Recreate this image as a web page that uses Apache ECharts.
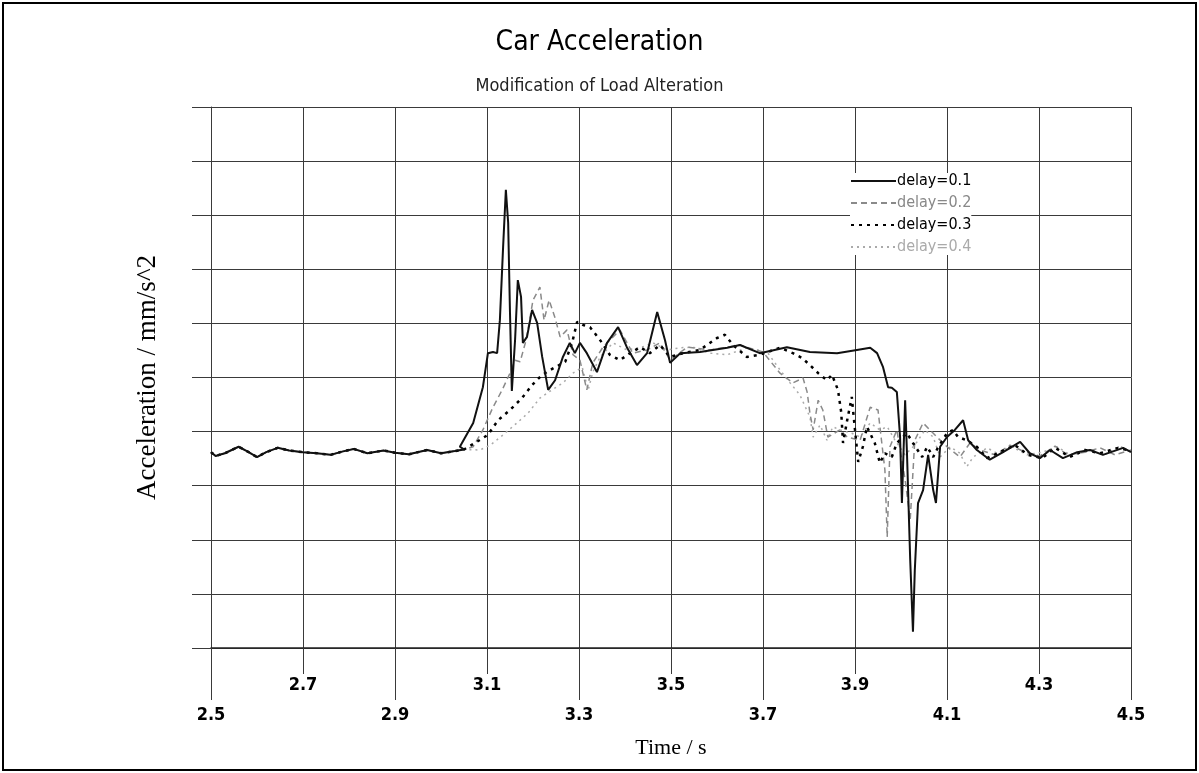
<!DOCTYPE html>
<html lang="en">
<head>
    <meta charset="UTF-8">
    <title>Car Acceleration</title>
    <script src="https://cdn.jsdelivr.net/npm/echarts@6/dist/echarts.min.js"></script>
    <style>
        html, body { margin: 0; padding: 0; background: #fff; }
    </style>
</head>
<body>
<div id="main" style="width: 1199px;height:773px;"></div>
<script type="text/javascript">
    // tick positions of the time axis
    var gridTicks = [2.5, 2.7, 2.9, 3.1, 3.3, 3.5, 3.7, 3.9, 4.1, 4.3, 4.5];
    var upperLabels = [2.7, 3.1, 3.5, 3.9, 4.3];
    var lowerLabels = [2.5, 2.9, 3.3, 3.7, 4.1, 4.5];
    var names = ['delay=0.1', 'delay=0.2', 'delay=0.3', 'delay=0.4'];

    // common part before the load change (all curves on top of each other)
    var baseT = [2.50, 2.51, 2.53, 2.56, 2.58, 2.60, 2.62, 2.645, 2.67, 2.70, 2.73, 2.76, 2.785, 2.81, 2.84, 2.875, 2.90, 2.93, 2.97, 3.00, 3.03, 3.05];
    var baseA = [3.62, 3.55, 3.60, 3.72, 3.63, 3.53, 3.62, 3.70, 3.65, 3.62, 3.60, 3.57, 3.63, 3.68, 3.60, 3.65, 3.61, 3.58, 3.66, 3.60, 3.64, 3.67];

    // delay=0.1
    var t1 = [3.041, 3.070, 3.091, 3.102, 3.113, 3.122, 3.128, 3.135, 3.141, 3.146, 3.150, 3.154, 3.161, 3.167, 3.174, 3.178, 3.187, 3.198, 3.209, 3.220, 3.233, 3.248, 3.265, 3.280, 3.291, 3.302, 3.317, 3.339, 3.361, 3.385, 3.404, 3.426, 3.448, 3.470, 3.487, 3.498, 3.520, 3.563, 3.622, 3.650, 3.693, 3.752, 3.802, 3.861, 3.904, 3.933, 3.948, 3.961, 3.972, 3.980, 3.991, 3.998, 4.002, 4.009, 4.013, 4.020, 4.026, 4.030, 4.037, 4.048, 4.059, 4.070, 4.076, 4.085, 4.100, 4.117, 4.135, 4.146, 4.165, 4.193, 4.222, 4.259, 4.280, 4.302, 4.324, 4.352, 4.383, 4.411, 4.439, 4.483, 4.500];
    var a1 = [3.72, 4.16, 4.82, 5.45, 5.47, 5.45, 6.06, 7.41, 8.47, 7.86, 6.19, 4.75, 5.69, 6.80, 6.49, 5.64, 5.75, 6.25, 6.01, 5.38, 4.77, 4.95, 5.38, 5.64, 5.45, 5.64, 5.45, 5.10, 5.64, 5.93, 5.56, 5.23, 5.45, 6.21, 5.69, 5.27, 5.45, 5.47, 5.55, 5.60, 5.45, 5.56, 5.47, 5.45, 5.51, 5.55, 5.45, 5.19, 4.82, 4.81, 4.73, 3.90, 2.68, 4.58, 3.60, 1.63, 0.30, 1.44, 2.68, 2.92, 3.57, 2.92, 2.68, 3.72, 3.90, 4.03, 4.21, 3.84, 3.66, 3.48, 3.62, 3.81, 3.60, 3.51, 3.66, 3.51, 3.62, 3.66, 3.57, 3.70, 3.62];

    // delay=0.2
    var t2 = [3.070, 3.091, 3.113, 3.133, 3.150, 3.161, 3.172, 3.185, 3.200, 3.215, 3.224, 3.235, 3.248, 3.259, 3.274, 3.287, 3.302, 3.317, 3.330, 3.352, 3.389, 3.417, 3.448, 3.476, 3.498, 3.535, 3.585, 3.650, 3.700, 3.737, 3.765, 3.787, 3.796, 3.802, 3.809, 3.820, 3.830, 3.841, 3.867, 3.883, 3.911, 3.933, 3.950, 3.965, 3.970, 3.976, 3.991, 4.009, 4.020, 4.030, 4.048, 4.063, 4.078, 4.100, 4.128, 4.150, 4.172, 4.204, 4.237, 4.270, 4.302, 4.335, 4.363, 4.400, 4.433, 4.465, 4.500];
    var a2 = [3.72, 4.03, 4.45, 4.77, 5.08, 5.32, 5.29, 5.69, 6.43, 6.67, 6.06, 6.43, 6.10, 5.75, 5.88, 5.42, 5.32, 4.77, 5.27, 5.56, 5.88, 5.45, 5.51, 5.64, 5.32, 5.56, 5.51, 5.60, 5.47, 5.08, 4.90, 4.99, 4.73, 4.34, 4.03, 4.58, 4.40, 3.90, 4.03, 3.90, 3.84, 4.45, 4.40, 3.29, 2.05, 3.72, 4.03, 3.11, 2.37, 3.84, 4.16, 4.03, 3.90, 3.72, 3.53, 3.79, 3.66, 3.57, 3.75, 3.62, 3.55, 3.73, 3.57, 3.62, 3.70, 3.57, 3.66];

    // delay=0.3
    var t3 = [3.074, 3.102, 3.124, 3.150, 3.176, 3.198, 3.220, 3.248, 3.270, 3.285, 3.296, 3.309, 3.324, 3.346, 3.367, 3.389, 3.411, 3.433, 3.454, 3.476, 3.498, 3.526, 3.563, 3.600, 3.617, 3.635, 3.665, 3.693, 3.737, 3.765, 3.785, 3.802, 3.820, 3.839, 3.850, 3.863, 3.870, 3.874, 3.883, 3.893, 3.900, 3.907, 3.917, 3.926, 3.943, 3.954, 3.965, 3.980, 3.991, 4.013, 4.026, 4.046, 4.057, 4.070, 4.080, 4.100, 4.113, 4.124, 4.143, 4.165, 4.187, 4.215, 4.248, 4.276, 4.307, 4.335, 4.367, 4.400, 4.433, 4.472, 4.500];
    var a3 = [3.79, 3.94, 4.21, 4.40, 4.62, 4.86, 5.05, 5.19, 5.29, 5.64, 6.03, 5.97, 5.93, 5.69, 5.42, 5.32, 5.45, 5.56, 5.45, 5.60, 5.38, 5.45, 5.51, 5.73, 5.79, 5.60, 5.38, 5.42, 5.55, 5.45, 5.36, 5.23, 5.08, 4.95, 5.05, 4.77, 4.36, 3.79, 4.21, 4.64, 4.03, 3.44, 3.72, 4.09, 3.79, 3.42, 3.60, 3.53, 3.79, 3.97, 3.79, 3.53, 3.72, 3.53, 3.70, 3.97, 4.03, 3.90, 3.84, 3.72, 3.51, 3.62, 3.75, 3.57, 3.51, 3.70, 3.53, 3.66, 3.60, 3.70, 3.64];

    // delay=0.4
    var t4 = [3.085, 3.107, 3.135, 3.165, 3.189, 3.215, 3.241, 3.265, 3.287, 3.307, 3.320, 3.330, 3.346, 3.374, 3.404, 3.433, 3.461, 3.491, 3.520, 3.548, 3.585, 3.622, 3.665, 3.709, 3.737, 3.759, 3.780, 3.802, 3.809, 3.824, 3.839, 3.852, 3.867, 3.893, 3.911, 3.933, 3.954, 3.970, 3.987, 4.009, 4.030, 4.052, 4.070, 4.085, 4.107, 4.128, 4.143, 4.157, 4.187, 4.209, 4.241, 4.274, 4.307, 4.339, 4.372, 4.407, 4.441, 4.476, 4.500];
    var a4 = [3.66, 3.75, 3.94, 4.16, 4.34, 4.62, 4.77, 4.90, 5.08, 5.19, 4.77, 5.10, 5.38, 5.64, 5.51, 5.55, 5.64, 5.51, 5.55, 5.56, 5.45, 5.42, 5.55, 5.47, 5.14, 4.90, 4.68, 4.27, 3.90, 4.12, 3.84, 4.09, 4.03, 3.97, 3.90, 4.16, 4.03, 4.09, 3.84, 3.57, 3.75, 4.03, 3.90, 3.53, 3.72, 3.60, 3.35, 3.53, 3.70, 3.60, 3.72, 3.57, 3.62, 3.72, 3.55, 3.66, 3.57, 3.73, 3.62];

    function pairs(ts, as) {
        var out = [];
        for (var i = 0; i < ts.length; i++) {
            out.push([ts[i], as[i]]);
        }
        return out;
    }

    var myChart = echarts.init(document.getElementById('main'));

    var narrow = "'Liberation Sans Narrow', 'DejaVu Sans Condensed', sans-serif";
    var gridColor = '#3a3a3a';
    var lblStyle = {
        color: '#000',
        fontFamily: narrow,
        fontSize: 18,
        fontWeight: 'bold'
    };

    myChart.setOption({
        backgroundColor: '#fff',
        animation: false,
        title: [{
            text: 'Car Acceleration',
            left: 'center',
            top: 24,
            textStyle: { fontFamily: narrow, fontSize: 28, fontWeight: 'normal', color: '#000' }
        }, {
            text: 'Modification of Load Alteration',
            left: 'center',
            top: 72,
            textStyle: { fontFamily: narrow, fontSize: 18, fontWeight: 'normal', color: '#222' }
        }],
        graphic: [{
            type: 'rect',
            shape: { x: 3, y: 3, width: 1193, height: 767 },
            style: { fill: 'none', stroke: '#000', lineWidth: 2 },
            silent: true
        }],
        legend: {
            orient: 'vertical',
            left: 850,
            top: 173,
            itemWidth: 45,
            itemHeight: 14,
            itemGap: 6,
            backgroundColor: '#fff',
            padding: [0, 0, 0, 0],
            itemStyle: { opacity: 0 },
            textStyle: { fontFamily: narrow, fontSize: 16, padding: [0, 0, 0, -4] },
            data: [
                { name: names[0], textStyle: { color: '#000' } },
                { name: names[1], textStyle: { color: '#888' } },
                { name: names[2], textStyle: { color: '#000' } },
                { name: names[3], textStyle: { color: '#aaa' } }
            ]
        },
        grid: {
            left: 211,
            right: 68,
            top: 107,
            bottom: 125
        },
        xAxis: [{
            type: 'value',
            min: 2.5,
            max: 4.5,
            position: 'bottom',
            offset: 0,
            axisLine: { show: true, lineStyle: { color: '#222', width: 1.5 } },
            axisTick: { show: true, inside: false, length: 26, customValues: gridTicks, lineStyle: { color: gridColor } },
            axisLabel: {
                customValues: upperLabels,
                margin: 28,
                formatter: function (v) { return v.toFixed(1); },
                textStyle: lblStyle
            },
            splitLine: { show: true, lineStyle: { color: gridColor, width: 1 } }
        }, {
            type: 'value',
            min: 2.5,
            max: 4.5,
            position: 'bottom',
            offset: 0,
            axisLine: { show: false },
            axisTick: { show: true, inside: false, length: 52, customValues: lowerLabels, lineStyle: { color: gridColor } },
            axisLabel: {
                customValues: lowerLabels,
                margin: 58,
                formatter: function (v) { return v.toFixed(1); },
                textStyle: lblStyle
            },
            splitLine: { show: false },
            name: 'Time / s',
            nameLocation: 'middle',
            nameGap: 89,
            nameTextStyle: { fontFamily: 'Liberation Serif', fontSize: 22, color: '#000' }
        }],
        yAxis: {
            type: 'value',
            min: 0,
            max: 10,
            interval: 1,
            name: 'Acceleration / mm/s^2',
            nameLocation: 'middle',
            nameGap: 50,
            nameTextStyle: { fontFamily: 'Liberation Serif', fontSize: 27, color: '#000' },
            axisLine: { show: true, lineStyle: { color: gridColor } },
            axisTick: { show: true, inside: false, length: 19, lineStyle: { color: gridColor } },
            axisLabel: { show: false },
            splitLine: { show: true, lineStyle: { color: gridColor, width: 1 } }
        },
        series: [{
            name: names[0],
            type: 'line',
            z: 6,
            showSymbol: false,
            symbol: 'none',
            data: pairs(baseT.concat(t1), baseA.concat(a1)),
            itemStyle: { color: '#111' },
            lineStyle: { color: '#111', width: 2 }
        }, {
            name: names[1],
            type: 'line',
            z: 4,
            showSymbol: false,
            symbol: 'none',
            data: pairs(baseT.concat(t2), baseA.concat(a2)),
            itemStyle: { color: '#8a8a8a' },
            lineStyle: { color: '#8a8a8a', width: 1.5, type: [6, 4] }
        }, {
            name: names[2],
            type: 'line',
            z: 5,
            showSymbol: false,
            symbol: 'none',
            data: pairs(baseT.concat(t3), baseA.concat(a3)),
            itemStyle: { color: '#000' },
            lineStyle: { color: '#000', width: 2.5, type: [3, 5] }
        }, {
            name: names[3],
            type: 'line',
            z: 3,
            showSymbol: false,
            symbol: 'none',
            data: pairs(baseT.concat(t4), baseA.concat(a4)),
            itemStyle: { color: '#aaa' },
            lineStyle: { color: '#aaa', width: 1.5, type: [2, 4] }
        }]
    });
</script>
</body>
</html>
